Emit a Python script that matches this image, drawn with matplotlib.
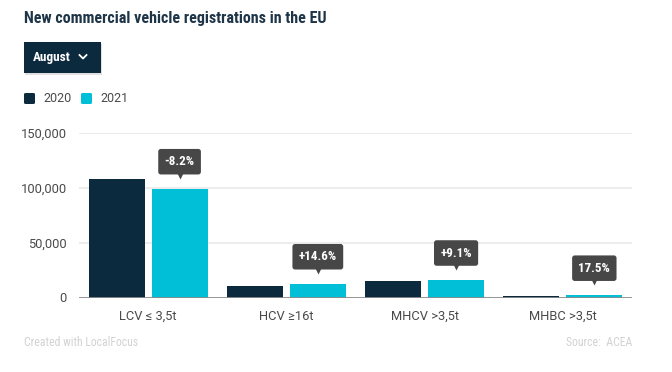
import matplotlib
matplotlib.use("Agg")
import matplotlib.pyplot as plt
from matplotlib.patches import FancyBboxPatch, Rectangle
from matplotlib.lines import Line2D
import matplotlib.transforms as mtransforms
import numpy as np

categories = ["LCV \u2264 3,5t", "HCV \u226516t", "MHCV >3,5t", "MHBC >3,5t"]
values_2020 = [107700, 10900, 14600, 1800]
values_2021 = [98900, 12500, 15900, 2100]
change_labels = ["-8.2%", "+14.6%", "+9.1%", "17.5%"]
series_names = ["2020", "2021"]
y_ticks = [0, 50000, 100000, 150000]

NAVY = "#0b2a3e"
CYAN = "#00bfd7"
W, H = 672, 372
COND = ["Roboto Condensed", "Liberation Sans Narrow", "Roboto", "DejaVu Sans"]
REG = ["Roboto", "DejaVu Sans"]

fig = plt.figure(figsize=(W / 100, H / 100), dpi=100)
fig.patch.set_facecolor("white")


def fx(x):
    return x / W


def fy(y):
    return 1 - y / H


# axes
left, right, top, bottom = 79, 632, 132.5, 297.5
ax = fig.add_axes([fx(left), fy(bottom), (right - left) / W, (bottom - top) / H])
ax.set_xlim(-0.5, len(categories) - 0.5)
ax.set_ylim(0, 150000)
for s in ax.spines.values():
    s.set_visible(False)
ax.set_facecolor("none")

for t in y_ticks[1:]:
    ax.axhline(t, color="#ececec", lw=1.4, zorder=0)
ax.axhline(0, color="#8c8c8c", lw=2, zorder=3)

x = np.arange(len(categories))
bw = 0.405
off = 0.2275
ax.bar(x - off, values_2020, width=bw, color=NAVY, zorder=2)
ax.bar(x + off, values_2021, width=bw, color=CYAN, zorder=2)

ax.set_yticks(y_ticks)
ax.set_yticklabels([f"{v:,}" for v in y_ticks], family=REG, fontsize=9.3, color="#4a4a4a")
ax.set_xticks(x)
ax.set_xticklabels(categories, family=REG, fontsize=9.3, color="#4a4a4a")
ax.tick_params(axis="both", length=0)
ax.tick_params(axis="y", pad=9)
ax.tick_params(axis="x", pad=9)

# change annotations
BOX = "#474747"
for i, (v, lab) in enumerate(zip(values_2021, change_labels)):
    ax.annotate(lab, xy=(x[i] + off, v), xytext=(0, 27), textcoords="offset pixels",
                ha="center", va="center", color="white", fontsize=9.4, fontweight="bold",
                family=COND, zorder=5,
                bbox=dict(boxstyle="round,pad=0.48,rounding_size=0.2", fc=BOX, ec="none"))
    tr = mtransforms.offset_copy(ax.transData, fig=fig, x=0, y=14, units="dots")
    ax.plot([x[i] + off], [v], marker="v", ms=5.5, color=BOX, mec="none",
            transform=tr, clip_on=False, zorder=5)

# title
fig.text(fx(24), fy(18), "New commercial vehicle registrations in the EU", ha="left", va="center",
         fontsize=11.5, fontweight="bold", color="#1e3548", family=COND)

# dropdown with shadow
shadow = FancyBboxPatch((fx(25), fy(75)), (77) / W, 31 / H, boxstyle="square,pad=0",
                        transform=fig.transFigure, fc="#000000", ec="none", alpha=0.12)
fig.patches.append(shadow)
btn = Rectangle((fx(24), fy(73)), 77 / W, 31 / H, transform=fig.transFigure,
                fc=NAVY, ec="none")
fig.patches.append(btn)
fig.text(fx(33), fy(57), "August", ha="left", va="center", fontsize=9.5,
         fontweight="bold", color="white", family=COND)
fig.lines.append(Line2D([fx(79.5), fx(83), fx(86.5)], [fy(55), fy(58.5), fy(55)],
                        transform=fig.transFigure, color="white", lw=1.3))

# legend
for sx, name, col in [(24, series_names[0], NAVY), (81, series_names[1], CYAN)]:
    sq = FancyBboxPatch((fx(sx), fy(104)), 11 / W, 11 / H,
                        boxstyle="round,pad=0,rounding_size=0.003",
                        transform=fig.transFigure, fc=col, ec="none")
    fig.patches.append(sq)
    fig.text(fx(sx + 19), fy(99), name, ha="left", va="center", fontsize=9,
             color="#4a4a4a", family=REG)

# footer
fig.text(fx(24), fy(343), "Created with LocalFocus", ha="left", va="center", fontsize=8.5,
         color="#d2d2d2", family=COND)
fig.text(fx(632), fy(343), "Source:  ACEA", ha="right", va="center", fontsize=8.5,
         color="#d2d2d2", family=COND)

fig.savefig("out.png", dpi=100, facecolor="white")
